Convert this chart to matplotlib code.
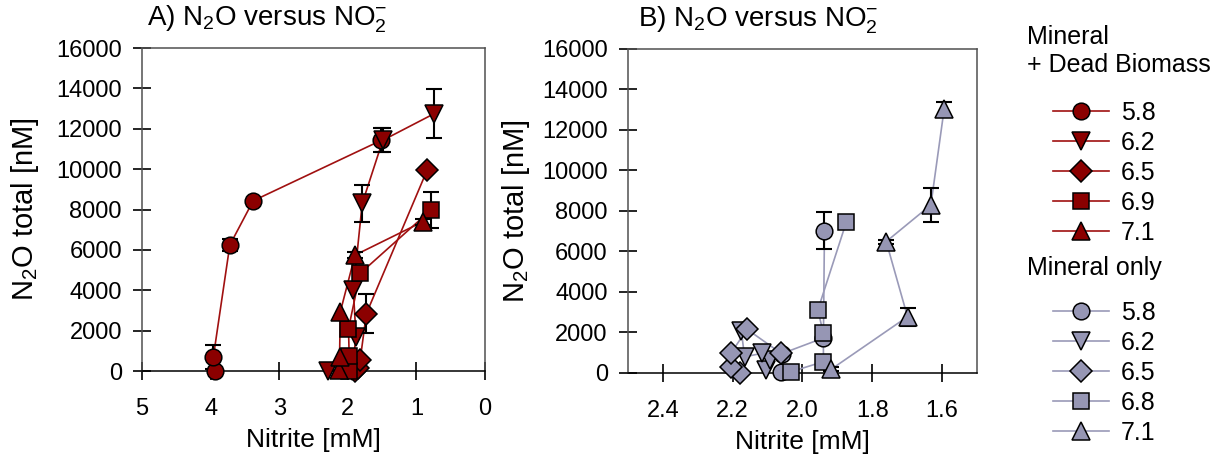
import numpy as np
import matplotlib
matplotlib.use('Agg')
import matplotlib.pyplot as plt
from matplotlib.lines import Line2D

plt.rcParams['font.family'] = ['Liberation Sans', 'DejaVu Sans']
plt.rcParams['mathtext.default'] = 'regular'

# Panel A: mineral + dead biomass (nitrite mM, N2O nM, error nM)
a58_x = [3.94, 3.96, 3.72, 3.38, 1.51]
a58_y = [0, 700, 6240, 8430, 11430]
a58_e = [0, 600, 300, 0, 600]
a62_x = [2.29, 1.94, 1.88, 1.92, 1.79, 1.49, 0.74]
a62_y = [15, 0, 1700, 4010, 8300, 11430, 12750]
a62_e = [0, 0, 0, 0, 930, 600, 1200]
a65_x = [1.90, 1.85, 1.82, 1.73, 0.84]
a65_y = [0, 150, 540, 2840, 9980]
a65_e = [0, 0, 0, 950, 0]
a69_x = [1.98, 1.98, 1.99, 1.82, 0.79]
a69_y = [15, 740, 2100, 4835, 7970]
a69_e = [0, 0, 0, 0, 880]
a71_x = [2.13, 2.12, 2.11, 1.895, 0.91]
a71_y = [50, 710, 2920, 5740, 7390]
a71_e = [0, 0, 0, 150, 150]

# Panel B: mineral only
b58_x = [2.061, 2.06, 1.94, 1.937]
b58_y = [65, 950, 1730, 7030]
b58_e = [0, 0, 0, 900]
b62_x = [2.104, 2.094, 2.116, 2.166, 2.175]
b62_y = [150, 640, 970, 800, 2050]
b62_e = [0, 0, 0, 0, 0]
b65_x = [2.178, 2.204, 2.204, 2.159, 2.061]
b65_y = [15, 280, 1000, 2160, 970]
b65_e = [0, 0, 0, 0, 0]
b68_x = [2.032, 1.94, 1.94, 1.956, 1.874]
b68_y = [65, 560, 1960, 3110, 7475]
b68_e = [0, 0, 0, 0, 200]
b71_x = [1.918, 1.699, 1.76, 1.632, 1.594]
b71_y = [180, 2780, 6490, 8300, 13040]
b71_e = [100, 435, 100, 840, 360]

labels_a = ['5.8', '6.2', '6.5', '6.9', '7.1']
labels_b = ['5.8', '6.2', '6.5', '6.8', '7.1']
markers = ['o', 'v', 'D', 's', '^']
msizes = [12, 13, 11, 11, 13]

red = '#8b0000'
red_line = '#a01010'
grey = '#9696b4'
grey_line = '#9a9ab8'

fig = plt.figure(figsize=(12.18, 4.63), dpi=100)
axA = fig.add_axes([0.1166, 0.1987, 0.2816, 0.6976])
axB = fig.add_axes([0.5156, 0.1944, 0.2865, 0.6998])

series_a = [(a58_x, a58_y, a58_e), (a62_x, a62_y, a62_e), (a65_x, a65_y, a65_e),
            (a69_x, a69_y, a69_e), (a71_x, a71_y, a71_e)]
series_b = [(b58_x, b58_y, b58_e), (b62_x, b62_y, b62_e), (b65_x, b65_y, b65_e),
            (b68_x, b68_y, b68_e), (b71_x, b71_y, b71_e)]


def draw(ax, series, face, lcol):
    for (x, y, e), m, ms in zip(series, markers, msizes):
        x = np.array(x); y = np.array(y); e = np.array(e)
        ax.plot(x, y, '-', color=lcol, lw=1.2, zorder=2, clip_on=False)
        has = e > 0
        if has.any():
            ax.errorbar(x[has], y[has], yerr=e[has], fmt='none', ecolor='black',
                        elinewidth=1.5, capsize=6, capthick=1.5, zorder=3, clip_on=False)
        ax.plot(x, y, ls='none', marker=m, ms=ms, mfc=face, mec='black', mew=1.1,
                zorder=4, clip_on=False)


draw(axA, series_a, red, red_line)
draw(axB, series_b, grey, grey_line)

for ax in (axA, axB):
    ax.set_ylim(0, 16000)
    ax.set_yticks(np.arange(0, 16001, 2000))
    ax.tick_params(direction='inout', length=13, width=1.2, labelsize=17, colors='black')
    ax.tick_params(axis='y', pad=8)
    ax.tick_params(axis='x', pad=13)
    for s in ax.spines.values():
        s.set_color('#505050')
        s.set_linewidth(1.1)
    ax.spines['bottom'].set_color('black')
    ax.set_xlabel('Nitrite [mM]', fontsize=19, labelpad=6)

axA.set_ylabel('N$_2$O total [nM]', fontsize=21, labelpad=11)
axB.set_ylabel('N$_2$O total [nM]', fontsize=21, labelpad=7)

axA.set_xlim(5, 0)
axA.set_xticks([5, 4, 3, 2, 1, 0])
axB.set_xlim(2.5, 1.5)
axB.set_xticks([2.4, 2.2, 2.0, 1.8, 1.6])
axB.set_xticklabels(['2.4', '2.2', '2.0', '1.8', '1.6'])

axA.set_title('A) N$_2$O versus NO$_2^{-}$', fontsize=20, loc='left', pad=16, x=0.015)
axB.set_title('B) N$_2$O versus NO$_2^{-}$', fontsize=20, loc='left', pad=16, x=0.028)

# legends
def handles(face, lcol):
    return [Line2D([], [], color=lcol, lw=1.2, marker=m, ms=ms, mfc=face, mec='black', mew=1.1)
            for m, ms in zip(markers, msizes)]


fig.text(1027 / 1218, 1 - 37 / 463, 'Mineral', fontsize=18, va='center', ha='left')
fig.text(1027 / 1218, 1 - 65 / 463, '+ Dead Biomass', fontsize=18, va='center', ha='left')
fig.text(1027 / 1218, 1 - 268 / 463, 'Mineral only', fontsize=18, va='center', ha='left')

legA = fig.legend(handles(red, red_line), labels_a, loc='upper left',
                  bbox_to_anchor=(1040 / 1218, 1 - 88 / 463), frameon=False, fontsize=18,
                  handlelength=2.26, handletextpad=0.48, labelspacing=0.245, borderpad=0)
legB = fig.legend(handles(grey, grey_line), labels_b, loc='upper left',
                  bbox_to_anchor=(1040 / 1218, 1 - 288 / 463), frameon=False, fontsize=18,
                  handlelength=2.26, handletextpad=0.48, labelspacing=0.245, borderpad=0)

fig.savefig('out.png', dpi=100)
